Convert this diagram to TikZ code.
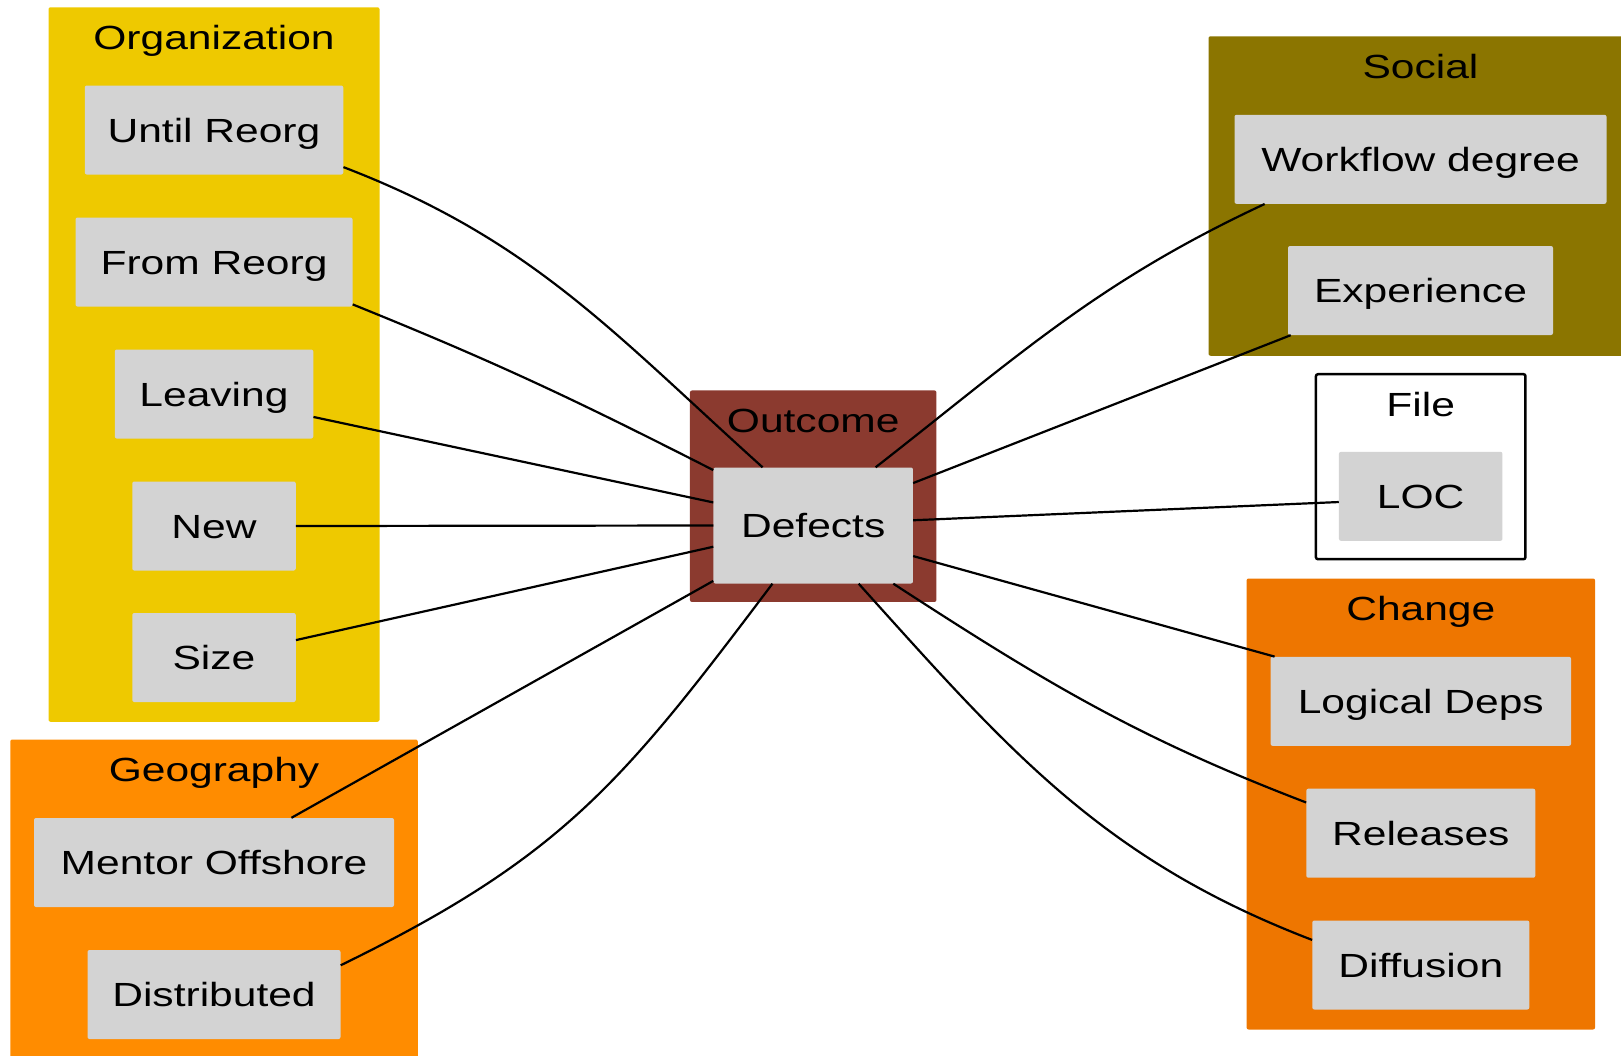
\documentclass[tikz,border=0pt]{standalone}
\usepackage{fontspec}
\setmainfont{Liberation Sans}[FakeStretch=1.27]
\usepackage{tikz}
\usepackage{xcolor}
\usetikzlibrary{positioning, calc}
\definecolor{orggold}{RGB}{238, 201, 0}
\definecolor{geoorange}{RGB}{255, 140, 0}
\definecolor{changeorange}{RGB}{238, 118, 0}
\definecolor{socialgold}{RGB}{139, 117, 0}
\definecolor{outcomebrown}{RGB}{139, 58, 47}
\definecolor{boxgray}{RGB}{211, 211, 211}

\begin{document}
\begin{tikzpicture}[x=1pt, y=-1pt,
    factor/.style={fill=boxgray, rounded corners=2pt, minimum height=89pt, inner sep=0pt, text height=24pt, text depth=0pt, font=\fontsize{33.5}{40}\selectfont},
    cluster/.style={rounded corners=2pt, inner sep=0pt},
    ctitle/.style={inner sep=0pt, text height=24pt, text depth=0pt, font=\fontsize{33.5}{40}\selectfont},
    link/.style={line width=2.2pt}]
    \useasboundingbox (0, 0) rectangle (1621, 1055);
    \clip (0, 0) rectangle (1621, 1055);

    \node[cluster, fill=orggold, minimum width=331pt, minimum height=714.5pt] (organization) at (214, 364.5) {};
    \node[cluster, fill=geoorange, minimum width=407.5pt, minimum height=325pt] (geography) at (214, 902) {};
    \node[cluster, fill=outcomebrown, minimum width=246.5pt, minimum height=211.5pt] (outcome) at (813.2, 496.2) {};
    \node[cluster, fill=socialgold, minimum width=424pt, minimum height=319.5pt] (social) at (1420.5, 196) {};
    \node[cluster, draw=black, line width=2.5pt, fill=white, minimum width=209.5pt, minimum height=185pt] (file) at (1420.7, 466.7) {};
    \node[cluster, fill=changeorange, minimum width=348.5pt, minimum height=451pt] (change) at (1420.8, 804) {};

    \node[ctitle] (orgtitle) at (214, 37.5) {Organization};
    \node[ctitle] (geotitle) at (214, 769.5) {Geography};
    \node[ctitle] (outcometitle) at (813.2, 420.5) {Outcome};
    \node[ctitle] (socialtitle) at (1420.5, 66) {Social};
    \node[ctitle] (filetitle) at (1420.7, 404) {File};
    \node[ctitle] (changetitle) at (1420.8, 608.5) {Change};

    \node[factor, minimum width=258.5pt] (untilreorg) at (214, 130) {Until Reorg};
    \node[factor, minimum width=277pt] (fromreorg) at (214, 262) {From Reorg};
    \node[factor, minimum width=198.5pt] (leaving) at (214, 394) {Leaving};
    \node[factor, minimum width=163.5pt] (new) at (214, 526) {New};
    \node[factor, minimum width=163.5pt] (size) at (214, 657.5) {Size};
    \node[factor, minimum width=360pt] (mentor) at (214, 862.5) {Mentor Offshore};
    \node[factor, minimum width=253pt] (distributed) at (214, 994.5) {Distributed};
    \node[factor, minimum width=199.5pt, minimum height=116pt] (defects) at (813.2, 525.5) {Defects};
    \node[factor, minimum width=372pt] (workflow) at (1420.5, 159.3) {Workflow degree};
    \node[factor, minimum width=265pt] (experience) at (1420.5, 290.5) {Experience};
    \node[factor, minimum width=163.5pt] (loc) at (1420.7, 496.3) {LOC};
    \node[factor, minimum width=300.5pt] (logicaldeps) at (1420.8, 701.3) {Logical Deps};
    \node[factor, minimum width=229pt] (releases) at (1420.8, 833.2) {Releases};
    \node[factor, minimum width=217pt] (diffusion) at (1420.8, 965) {Diffusion};

    \draw[link] (defects.131.5) to[out=138, in=-21] (untilreorg.-16);
    \draw[link] (defects.151.5) to[out=153, in=-22] (fromreorg.-17);
    \draw[link] (defects.167.5) -- (leaving.-13);
    \draw[link] (defects.west) -- (new.east);
    \draw[link] (defects.192.6) -- (size.12);
    \draw[link] (defects.209.4) -- (mentor.30);
    \draw[link] (defects.235) to[out=233, in=26, looseness=1.1] (distributed.13);
    \draw[link] (defects.43.5) to[out=38, in=205] (workflow.196.3);
    \draw[link] (defects.23.3) -- (experience.199);
    \draw[link] (defects.3.3) -- (loc.184);
    \draw[link] (defects.-17) -- (logicaldeps.163.5);
    \draw[link] (defects.-36.3) to[out=-33, in=159] (releases.165.5);
    \draw[link] (defects.-52) to[out=-48, in=159] (diffusion.167);
\end{tikzpicture}
\end{document}
